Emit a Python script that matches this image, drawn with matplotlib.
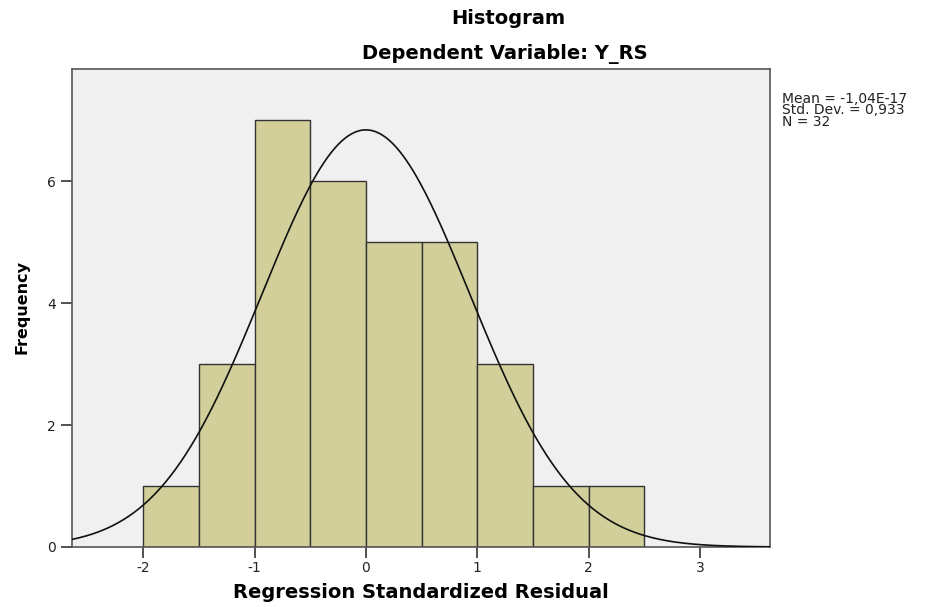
import numpy as np
import matplotlib
matplotlib.use("Agg")
import matplotlib.pyplot as plt

# residual histogram (bin width 0.5)
bin_edges = [-2.0, -1.5, -1.0, -0.5, 0.0, 0.5, 1.0, 1.5, 2.0, 2.5]
counts = [1, 3, 7, 6, 5, 5, 3, 1, 1]
mean = -1.04e-17
std_dev = 0.933
n_obs = 32
x_ticks = [-2, -1, 0, 1, 2, 3]
y_ticks = [0, 2, 4, 6]

plt.rcParams['font.family'] = ['DejaVu Sans']

fig = plt.figure(figsize=(9.26, 6.07), dpi=100)
ax = fig.add_axes([72 / 926, 1 - 547 / 607, 698 / 926, 478 / 607])
ax.set_facecolor('#f0f0f0')

widths = np.diff(bin_edges)
ax.bar(bin_edges[:-1], counts, width=widths, align='edge',
       color='#d3cf9a', edgecolor='#333333', linewidth=1.0, zorder=2)

# normal curve scaled to counts
bw = widths[0]
xs = np.linspace(-2.64, 3.63, 400)
ys = n_obs * bw / (std_dev * np.sqrt(2 * np.pi)) * np.exp(-0.5 * ((xs - mean) / std_dev) ** 2)
ax.plot(xs, ys, color='#111111', linewidth=1.2, zorder=3)

ax.set_xlim(-2.64, 3.63)
ax.set_ylim(0, 7.84)
ax.set_xticks(x_ticks)
ax.set_xticklabels([str(t) for t in x_ticks])
ax.set_yticks(y_ticks)
ax.tick_params(direction='out', length=8, width=1.2, colors='#333333',
               labelsize=10, labelcolor='#222222')
ax.tick_params(axis='x', pad=2)
for s in ax.spines.values():
    s.set_color('#555555')
    s.set_linewidth(1.2)

fig.text(421 / 926, 1 - 593 / 607, 'Regression Standardized Residual',
         ha='center', va='center', fontsize=14, fontweight='bold')
fig.text(22 / 926, 1 - 307 / 607, 'Frequency', rotation=90,
         ha='center', va='center', fontsize=11.5, fontweight='bold')
fig.text(508 / 926, 1 - 18 / 607, 'Histogram', ha='center', va='center',
         fontsize=14, fontweight='bold')
fig.text(505 / 926, 1 - 54 / 607, 'Dependent Variable: Y_RS', ha='center', va='center',
         fontsize=14, fontweight='bold')
fig.text(782 / 926, 1 - 92 / 607,
         'Mean = -1,04E-17\nStd. Dev. = 0,933\nN = ' + str(n_obs),
         ha='left', va='top', fontsize=10, linespacing=0.75, color='#222222')

fig.savefig('out.png', dpi=100)
